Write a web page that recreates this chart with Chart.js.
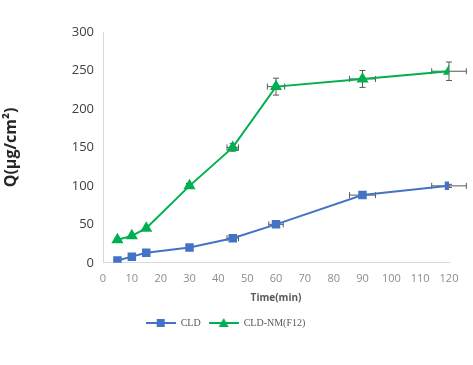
<!DOCTYPE html>
<html>
<head>
<meta charset="utf-8">
<script src="https://cdn.jsdelivr.net/npm/chart.js@4.4.1/dist/chart.umd.min.js"></script>
<style>
  html, body { margin: 0; padding: 0; background: #fff; }
  #wrap { width: 473px; height: 365px; }
</style>
</head>
<body>
<div id="wrap"><canvas id="chart-1" width="473" height="365"></canvas></div>
<script>
// time points (min)
var times = [5, 10, 15, 30, 45, 60, 90, 120];
var seriesNames = ["CLD", "CLD-NM(F12)"];
// Q (ug/cm2)
var cldValues = [3, 8, 13, 20, 32, 50, 88, 100];
var nmValues = [30, 35, 45, 100, 150, 229, 239, 249];
// error bars
var cldErrY = [0, 0, 0, 0, 0, 2, 2, 2];
var cldErrX = [0, 0, 0, 0, 2, 2.5, 4.5, 6];
var nmErrY = [0, 0, 0, 3, 5, 11, 11, 12];
var nmErrX = [0, 0, 0, 1, 2, 3, 4.5, 6];
var xTicks = [0, 10, 20, 30, 40, 50, 60, 70, 80, 90, 100, 110, 120];
var yTicks = [0, 50, 100, 150, 200, 250, 300];

var blue = "#4472C4";
var green = "#00B050";

function toPoints(xs, ys) {
  return xs.map(function (x, i) { return { x: x, y: ys[i] }; });
}

// little legend icon: line with marker in the middle
function legendIcon(color, shape) {
  var c = document.createElement("canvas");
  c.width = 30; c.height = 12;
  var g = c.getContext("2d");
  g.strokeStyle = color; g.lineWidth = 2;
  g.beginPath(); g.moveTo(0, 6); g.lineTo(30, 6); g.stroke();
  g.fillStyle = color;
  if (shape === "rect") {
    g.fillRect(11, 2, 8, 8);
  } else {
    g.beginPath(); g.moveTo(15, 1); g.lineTo(20, 10); g.lineTo(10, 10); g.closePath(); g.fill();
  }
  return c;
}

// draws x/y error bars using the chart scales
var errorBars = {
  id: "errorBars",
  beforeDatasetsDraw: function (chart) {
    var ctx = chart.ctx;
    var xs = chart.scales.x, ys = chart.scales.y;
    ctx.save();
    ctx.strokeStyle = "#595959";
    ctx.lineWidth = 1;
    chart.data.datasets.forEach(function (ds) {
      ds.data.forEach(function (p, i) {
        var px = xs.getPixelForValue(p.x), py = ys.getPixelForValue(p.y);
        var ex = ds.errX[i], ey = ds.errY[i];
        ctx.beginPath();
        if (ey > 0) {
          var t = ys.getPixelForValue(p.y + ey), b = ys.getPixelForValue(p.y - ey);
          ctx.moveTo(px, t); ctx.lineTo(px, b);
          ctx.moveTo(px - 3, t); ctx.lineTo(px + 3, t);
          ctx.moveTo(px - 3, b); ctx.lineTo(px + 3, b);
        }
        if (ex > 0) {
          var l = xs.getPixelForValue(p.x - ex), r = xs.getPixelForValue(p.x + ex);
          ctx.moveTo(l, py); ctx.lineTo(r, py);
          ctx.moveTo(l, py - 3); ctx.lineTo(l, py + 3);
          ctx.moveTo(r, py - 3); ctx.lineTo(r, py + 3);
        }
        ctx.stroke();
      });
    });
    ctx.restore();
  }
};

const ctx1 = document.getElementById("chart-1").getContext("2d");
const myChart = new Chart(ctx1, {
  type: "line",
  data: {
    datasets: [
      {
        label: seriesNames[0],
        data: toPoints(times, cldValues),
        errX: cldErrX,
        errY: cldErrY,
        borderColor: blue,
        backgroundColor: blue,
        borderWidth: 2,
        pointStyle: "rect",
        pointRadius: 6,
        pointHoverRadius: 6,
        pointBorderWidth: 0,
        tension: 0,
      },
      {
        label: seriesNames[1],
        data: toPoints(times, nmValues),
        errX: nmErrX,
        errY: nmErrY,
        borderColor: green,
        backgroundColor: green,
        borderWidth: 2,
        pointStyle: "triangle",
        pointRadius: 7,
        pointHoverRadius: 7,
        pointBorderWidth: 0,
        tension: 0,
      },
    ],
  },
  options: {
    responsive: false,
    animation: false,
    layout: { padding: { left: 2, right: 24, top: 32, bottom: 27 } },
    plugins: {
      tooltip: { enabled: false },
      legend: {
        position: "bottom",
        labels: {
          font: { family: "Liberation Serif", size: 10 },
          color: "#595959",
          usePointStyle: true,
          pointStyleWidth: 30,
          padding: 8,
          generateLabels: function (chart) {
            return chart.data.datasets.map(function (ds, i) {
              return {
                text: ds.label,
                datasetIndex: i,
                pointStyle: legendIcon(ds.borderColor, i === 0 ? "rect" : "tri"),
                fontColor: "#595959",
                lineWidth: 0,
              };
            });
          },
        },
      },
    },
    scales: {
      x: {
        type: "linear",
        min: 0,
        max: 120,
        afterBuildTicks: function (s) { s.ticks = xTicks.map(function (v) { return { value: v }; }); },
        grid: { display: false, drawTicks: true, tickLength: 5, color: "#d9d9d9" },
        border: { color: "#d9d9d9", width: 1 },
        ticks: { color: "#8c8c8c", font: { family: "Open Sans", size: 11 }, maxRotation: 0, padding: 4 },
        title: { display: true, text: "Time(min)", color: "#595959", font: { family: "Open Sans", size: 10, weight: "bold" }, padding: { top: 3, bottom: 6 } },
      },
      y: {
        min: 0,
        max: 300,
        afterBuildTicks: function (s) { s.ticks = yTicks.map(function (v) { return { value: v }; }); },
        afterFit: function (s) { s.width = 101; },
        grid: { display: false, drawTicks: true, tickLength: 5, color: "#d9d9d9" },
        border: { color: "#d9d9d9", width: 1 },
        ticks: { color: "#404040", font: { family: "Open Sans", size: 13 }, padding: 4 },
        title: { display: true, text: "Q(μg/cm²)", color: "#262626", font: { family: "Open Sans", size: 16, weight: "bold" }, padding: { top: 0, bottom: 16 } },
      },
    },
  },
  plugins: [errorBars],
});
</script>
</body>
</html>
